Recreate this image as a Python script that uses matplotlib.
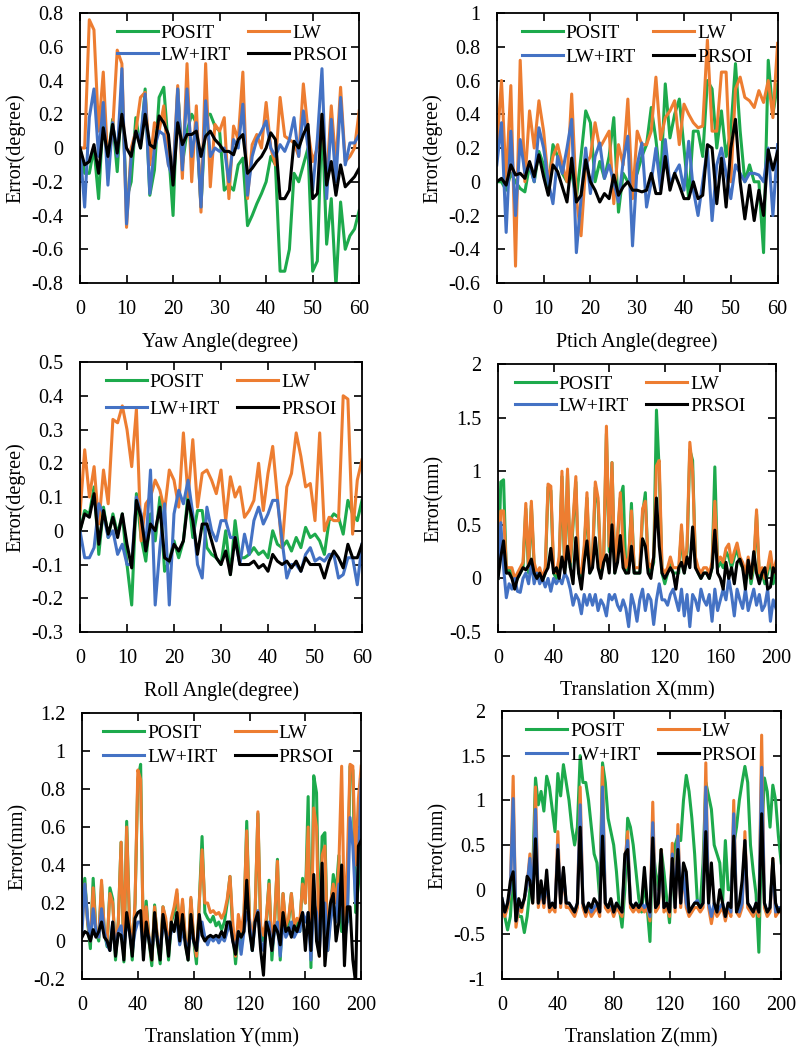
import matplotlib
matplotlib.use('Agg')
import matplotlib.pyplot as plt
from matplotlib.ticker import FuncFormatter

plt.rcParams['font.family'] = ['Liberation Serif', 'DejaVu Serif']
plt.rcParams['font.size'] = 14
plt.rcParams['axes.unicode_minus'] = False

series_names = ['POSIT', 'LW', 'LW+IRT', 'PRSOI']
series_colors = ['#1daa4c', '#ed7d31', '#4472c4', '#000000']

angle_x = list(range(0, 61))
trans_x = list(range(0, 201, 2))

# ---------------- Yaw ----------------
yaw_posit = [0, -0.15, -0.15, 0.0, -0.3, 0.2, -0.1, 0.17, -0.14, 0.3,
             -0.3, -0.2, 0.18, 0.0, 0.35, -0.28, -0.13, 0.3, 0.36, 0.0,
             -0.4, 0.35, -0.1, 0.1, 0.2, 0.15, -0.35, 0.2, 0.2, 0.13,
             0.1, -0.25, -0.22, -0.25, -0.1, -0.06, -0.46, -0.4, -0.33, -0.27,
             -0.2, -0.05, -0.1, -0.73, -0.73, -0.6, -0.15, -0.2, -0.1, 0.0,
             -0.73, -0.67, 0.2, -0.57, -0.3, -0.82, -0.32, -0.6, -0.52, -0.48, -0.37]
yaw_lw = [0, 0.0, 0.76, 0.70, 0.1, 0.45, -0.1, 0.1, 0.58, 0.5,
          -0.47, 0.0, 0.1, 0.3, 0.33, -0.1, 0.15, 0.1, 0.25, -0.1,
          -0.15, 0.37, -0.18, 0.5, -0.2, 0.25, -0.38, 0.5, -0.23, 0.14,
          0.1, 0.18, -0.3, 0.13, 0.05, 0.45, -0.3, 0.02, 0.08, 0.0,
          0.27, 0.0, -0.1, 0.3, 0.07, 0.05, 0.03, -0.05, 0.38, 0.1,
          -0.08, 0.0, 0.2, -0.2, 0.25, -0.1, 0.36, -0.08, -0.05, 0.0, 0.22]
yaw_irt = [0, -0.35, 0.18, 0.35, -0.05, 0.27, -0.22, 0.15, -0.05, 0.47,
           -0.45, -0.05, 0.1, 0.05, 0.32, -0.27, 0.0, 0.1, 0.08, -0.1,
           -0.18, 0.35, -0.13, 0.35, -0.05, 0.15, -0.35, 0.28, -0.05, 0.0,
           -0.02, 0.0, -0.2, 0.05, 0.0, 0.26, -0.28, -0.05, 0.05, 0.1,
           0.16, 0.0, -0.05, 0.02, -0.02, 0.05, 0.18, -0.05, 0.22, 0.0,
           -0.25, 0.05, 0.47, -0.3, 0.17, -0.2, 0.3, -0.1, 0.03, 0.03, 0.08]
yaw_prsoi = [0, -0.1, -0.08, 0.02, -0.15, 0.12, -0.05, 0.14, -0.03, 0.2,
             0.0, -0.05, 0.1, 0.0, 0.2, 0.02, 0.0, 0.19, 0.15, 0.08,
             -0.22, 0.15, 0.02, 0.08, 0.08, 0.1, -0.05, 0.07, 0.1, 0.05,
             0.02, -0.02, -0.02, -0.04, 0.05, 0.08, -0.15, -0.12, -0.08, -0.05,
             0.0, 0.09, 0.05, -0.3, -0.3, -0.25, 0.04, 0.0, 0.08, 0.14,
             -0.3, -0.27, 0.2, -0.22, -0.08, -0.28, -0.1, -0.23, -0.2, -0.17, -0.12]

# ---------------- Pitch ----------------
pitch_posit = [0, 0, -0.05, 0.05, 0.0, -0.04, -0.06, 0.1, 0.0, 0.18,
               0.1, -0.05, 0.22, 0.15, 0.05, 0.0, 0.05, -0.1, 0.15, 0.42,
               0.35, 0.0, 0.12, 0.02, 0.15, 0.38, -0.18, 0.05, 0.0, 0.0,
               0.05, 0.15, 0.22, 0.44, 0.25, 0.0, 0.58, 0.26, 0.4, 0.49,
               0.2, -0.1, 0.3, 0.3, 0.15, 0.6, 0.55, 0.2, 0.42, 0.15,
               0.3, 0.7, 0.3, 0.0, 0.1, 0.0, 0.0, -0.42, 0.72, 0.4, 0.58]
pitch_lw = [0.2, 0.6, 0.0, 0.57, -0.5, 0.72, 0.0, 0.42, 0.2, 0.48,
            0.3, 0.0, 0.15, 0.22, 0.1, 0.0, 0.52, -0.1, -0.32, 0.1,
            0.15, 0.35, 0.2, 0.25, 0.3, -0.13, 0.22, 0.1, 0.49, -0.1,
            0.3, 0.22, 0.22, 0.3, 0.62, 0.25, 0.38, 0.42, 0.48, 0.22,
            0.46, 0.4, 0.35, 0.32, 0.33, 0.84, 0.3, 0.3, 0.65, 0.65,
            0.0, 0.55, 0.62, 0.5, 0.48, 0.44, 0.54, 0.47, 0.6, 0.38, 0.82]
pitch_irt = [0.1, 0.35, -0.3, 0.3, -0.2, 0.25, 0.05, 0.1, 0.0, 0.32,
             0.2, 0.0, -0.13, 0.15, 0.05, 0.2, 0.37, -0.42, -0.1, 0.2,
             -0.07, 0.15, 0.23, 0.02, 0.1, 0.0, -0.12, 0.12, 0.27, -0.38,
             0.1, 0.23, -0.15, 0.0, 0.2, -0.05, 0.25, -0.02, 0.05, 0.1,
             -0.05, 0.24, -0.05, -0.2, 0.0, 0.2, -0.23, 0.1, 0.2, 0.05,
             -0.1, 0.1, 0.05, 0.0, 0.05, 0.05, 0.04, 0.0, 0.2, -0.2, 0.22]
pitch_prsoi = [0, 0.02, -0.02, 0.1, 0.04, 0.05, 0.02, 0.12, 0.03, 0.16,
               0.03, -0.08, 0.1, 0.06, -0.03, -0.12, 0.14, -0.12, -0.08, 0.13,
               0.0, -0.05, -0.12, -0.07, -0.1, 0.04, -0.08, -0.03, 0.0, -0.05,
               -0.05, -0.06, -0.05, 0.05, -0.07, -0.07, 0.15, -0.05, 0.05, -0.02,
               -0.1, -0.1, 0.0, -0.1, -0.08, 0.22, 0.2, -0.13, 0.14, -0.15,
               0.2, 0.37, 0.0, -0.22, -0.02, -0.23, -0.05, -0.2, 0.19, 0.07, 0.18]

# ---------------- Roll ----------------
roll_posit = [0.0, 0.06, 0.05, 0.13, -0.07, 0.07, -0.02, 0.05, -0.01, 0.05,
              -0.1, -0.22, 0.11, -0.02, -0.09, 0.05, -0.03, 0.1, -0.12, -0.09,
              -0.03, -0.08, -0.03, 0.11, -0.02, 0.06, 0.06, -0.05, -0.07, -0.08,
              -0.1, 0.0, -0.13, 0.03, -0.08, -0.08, -0.07, -0.05, -0.07, -0.06,
              -0.08, 0.0, -0.04, -0.05, -0.03, -0.06, -0.02, -0.05, 0.01, -0.02,
              -0.01, -0.03, -0.07, 0.03, 0.05, 0.04, -0.01, 0.09, 0.05, 0.03, 0.09]
roll_lw = [0.05, 0.24, 0.1, 0.19, 0.02, 0.18, 0.08, 0.33, 0.32, 0.37,
           0.3, 0.19, 0.36, -0.03, 0.08, 0.1, 0.15, 0.12, 0.06, 0.18,
           0.15, 0.07, 0.29, 0.1, 0.27, 0.07, 0.17, 0.18, 0.15, 0.11,
           0.18, 0.03, 0.16, 0.1, 0.13, 0.04, 0.06, 0.09, 0.2, 0.06,
           0.17, 0.25, 0.1, -0.05, 0.13, 0.17, 0.29, 0.22, 0.13, 0.14,
           0.03, 0.29, 0.0, 0.04, 0.03, 0.03, 0.4, 0.39, -0.01, 0.15, 0.21]
roll_irt = [0.0, -0.08, -0.08, -0.05, 0.08, 0.05, -0.02, 0.0, -0.07, -0.04,
            -0.1, -0.1, 0.1, 0.05, -0.05, 0.18, -0.22, -0.05, 0.08, -0.22,
            0.05, 0.12, 0.08, 0.15, 0.05, -0.1, -0.14, 0.07, 0.0, -0.03,
            0.03, 0.03, -0.02, -0.02, -0.1, -0.01, -0.07, 0.03, 0.07, 0.02,
            0.05, 0.09, 0.09, -0.03, -0.14, -0.1, -0.1, -0.12, -0.07, -0.05,
            -0.09, -0.08, -0.09, -0.07, -0.07, -0.14, -0.13, -0.08, -0.08, -0.16, -0.04]
roll_prsoi = [0.0, 0.05, 0.04, 0.11, -0.04, 0.06, -0.01, 0.04, -0.02, 0.05,
              -0.04, -0.11, 0.09, 0.04, -0.06, 0.02, 0.0, 0.07, -0.08, -0.09,
              -0.04, -0.06, -0.03, 0.09, 0.03, -0.07, 0.02, 0.02, -0.03, -0.08,
              -0.1, -0.06, -0.13, -0.02, -0.1, -0.1, -0.1, -0.09, -0.11, -0.1,
              -0.12, -0.07, -0.09, -0.1, -0.09, -0.11, -0.09, -0.12, -0.08, -0.1,
              -0.1, -0.1, -0.14, -0.09, -0.06, -0.08, -0.11, -0.04, -0.08, -0.08, -0.04]

# ---------------- Translation X ----------------
tx_posit = [0.0, 0.9, 0.92, 0.05, 0.08, 0.05, -0.05, 0.0, 0.05, 0.1,
            0.65, 0.05, 0.68, 0.1, 0.0, 0.05, -0.02, 0.05, 0.85, 0.82,
            0.05, 0.0, 0.15, 0.95, 0.05, 0.98, 0.1, 0.5, 0.9, 0.05,
            0.0, 0.25, 0.75, 0.05, 0.15, 0.85, 0.7, 0.05, 0.15, 1.35,
            0.25, 1.08, 0.05, 0.35, 0.75, 0.86, 0.05, 0.15, 0.7, 0.05,
            0.05, 0.05, 0.6, 0.8, 0.1, 0.05, 0.15, 1.57, 1.0, 0.05,
            -0.05, 0.05, 0.15, 0.05, 0.05, 0.05, 0.45, 0.05, 0.25, 1.2,
            1.1, 0.15, 0.05, 0.0, 0.05, 0.05, 0.0, 0.1, 1.04, 0.1,
            0.15, 0.1, 0.25, 0.2, 0.1, 0.2, 0.28, 0.15, 0.1, 0.0,
            0.15, -0.05, 0.1, 0.6, 0.0, 0.05, -0.05, 0.05, 0.2, -0.05, 0.1]
tx_lw = [0.0, 0.63, 0.63, 0.1, 0.1, 0.1, 0.0, 0.05, 0.1, 0.15,
         0.7, 0.1, 0.72, 0.15, 0.05, 0.1, 0.0, 0.1, 0.88, 0.86,
         0.1, 0.05, 0.2, 1.0, 0.1, 1.02, 0.15, 0.55, 0.95, 0.1,
         0.05, 0.3, 0.8, 0.1, 0.2, 0.9, 0.75, 0.1, 0.2, 1.42,
         0.3, 1.08, 0.1, 0.4, 0.8, 0.3, 0.1, 0.2, 0.63, 0.1,
         0.1, 0.1, 0.65, 0.72, 0.15, 0.1, 0.2, 1.05, 1.1, 0.1,
         0.05, 0.1, 0.2, 0.1, 0.1, 0.1, 0.5, 0.1, 0.3, 1.27,
         1.0, 0.2, 0.1, 0.05, 0.1, 0.1, 0.05, 0.15, 0.72, 0.15,
         0.2, 0.15, 0.28, 0.32, 0.15, 0.25, 0.33, 0.2, 0.15, 0.05,
         0.2, 0.0, 0.15, 0.64, 0.05, 0.1, 0.0, 0.1, 0.25, 0.05, 0.16]
tx_irt = [0.0, 0.52, 0.1, -0.18, -0.05, -0.1, 0.0, -0.12, -0.13, 0.0,
          0.05, -0.05, 0.15, -0.05, 0.05, -0.05, 0.0, -0.08, 0.0, -0.12,
          0.0, -0.05, 0.0, -0.05, 0.05, 0.0, -0.1, -0.25, -0.15, -0.2,
          -0.33, -0.15, -0.25, -0.15, -0.25, -0.15, -0.3, -0.2, -0.25, -0.35,
          -0.15, -0.2, -0.15, -0.25, -0.3, -0.2, -0.28, -0.45, -0.15, -0.25,
          -0.4, -0.2, -0.1, -0.3, -0.15, -0.2, -0.43, -0.2, -0.05, -0.2,
          -0.2, -0.25, -0.15, -0.1, -0.2, -0.3, -0.1, -0.35, -0.15, -0.45,
          -0.15, -0.2, -0.3, -0.1, -0.2, -0.25, -0.15, -0.4, -0.1, -0.3,
          -0.2, -0.1, -0.2, 0.0, -0.15, -0.35, -0.1, -0.2, -0.28, -0.1,
          -0.3, -0.2, -0.1, -0.25, -0.15, -0.3, -0.25, -0.1, -0.4, -0.2, -0.28]
tx_prsoi = [0.0, 0.2, 0.35, 0.05, 0.05, 0.0, -0.1, 0.0, 0.05, 0.1,
            0.08, 0.12, 0.18, 0.05, 0.0, 0.05, -0.02, 0.05, 0.1, 0.28,
            0.05, 0.1, 0.0, 0.2, 0.05, 0.3, 0.1, -0.05, 0.38, 0.05,
            -0.1, 0.15, 0.35, 0.05, 0.1, 0.38, 0.1, 0.0, 0.15, 0.22,
            0.05, 0.5, 0.05, 0.15, 0.4, 0.1, 0.05, 0.05, 0.3, 0.05,
            0.05, 0.05, 0.37, 0.3, 0.05, 0.0, 0.2, 0.75, 0.3, 0.05,
            0.0, 0.05, 0.1, 0.05, -0.1, 0.1, 0.15, 0.05, 0.2, 0.1,
            0.48, 0.1, 0.05, 0.0, 0.05, 0.05, 0.0, 0.1, 0.45, 0.05,
            0.0, -0.1, 0.15, 0.0, 0.1, -0.05, 0.15, 0.18, 0.1, -0.1,
            0.17, 0.0, 0.25, 0.05, -0.05, 0.05, 0.1, -0.1, -0.08, 0.1, 0.05]

# ---------------- Translation Y ----------------
ty_posit = [0.2, 0.33, 0.1, -0.04, 0.33, 0.05, 0.0, 0.3, 0.05, -0.03,
            0.28, 0.22, -0.1, 0.1, 0.52, -0.11, 0.63, 0.1, -0.1, 0.2,
            0.85, 0.93, -0.05, 0.21, 0.0, -0.13, 0.19, 0.0, -0.12, 0.18,
            0.1, -0.1, 0.1, 0.15, 0.25, 0.02, 0.2, 0.0, -0.1, 0.22,
            0.0, -0.12, 0.2, 0.55, 0.15, 0.12, 0.1, 0.13, 0.08, 0.1,
            0.06, 0.1, 0.2, 0.34, 0.05, -0.12, 0.05, 0.0, 0.1, 0.63,
            0.1, -0.05, 0.15, 0.67, 0.05, 0.0, 0.1, 0.32, -0.1, 0.1,
            0.43, -0.1, 0.25, 0.05, 0.1, 0.25, 0.05, 0.1, 0.05, 0.33,
            0.2, 0.76, -0.14, 0.87, 0.78, 0.0, 0.55, 0.57, -0.05, 0.15,
            0.35, 0.25, 0.45, 0.05, 0.2, 0.1, 0.92, 0.9, 0.15, 0.3, 0.55]
ty_lw = [0.1, 0.3, 0.1, 0.0, 0.28, 0.05, 0.02, 0.32, 0.05, 0.0,
         0.25, 0.2, -0.05, 0.1, 0.52, -0.08, 0.6, 0.1, -0.05, 0.2,
         0.9, 0.85, -0.03, 0.18, 0.02, -0.1, 0.18, 0.02, -0.08, 0.18,
         0.12, -0.05, 0.12, 0.18, 0.27, 0.05, 0.22, 0.02, -0.08, 0.23,
         0.02, -0.08, 0.2, 0.48, 0.2, 0.2, 0.15, 0.16, 0.14, 0.15,
         0.12, 0.15, 0.22, 0.34, 0.1, -0.08, 0.14, 0.05, 0.15, 0.58,
         0.12, 0.0, 0.15, 0.68, 0.08, 0.03, 0.12, 0.3, -0.05, 0.12,
         0.42, -0.05, 0.25, 0.08, 0.12, 0.25, 0.08, 0.12, 0.1, 0.3,
         0.2, 0.6, -0.08, 0.7, 0.6, -0.08, 0.45, 0.5, -0.05, 0.2,
         0.3, 0.2, 0.4, 0.92, 0.1, 0.4, 0.93, 0.92, 0.4, 0.75, 0.92]
ty_irt = [0.05, 0.3, 0.12, 0.0, 0.17, 0.05, 0.02, 0.17, 0.05, -0.02,
          -0.05, 0.1, -0.05, 0.05, 0.08, -0.05, 0.1, 0.05, -0.05, 0.05,
          0.1, 0.1, -0.05, 0.05, 0.02, -0.05, 0.05, 0.02, -0.05, 0.07,
          0.05, -0.02, 0.05, 0.07, 0.1, -0.02, 0.05, 0.0, -0.05, 0.05,
          0.0, -0.05, 0.05, 0.1, 0.02, -0.02, 0.02, 0.0, 0.02, -0.01,
          0.02, 0.0, 0.05, 0.1, 0.0, -0.05, 0.05, -0.07, 0.05, 0.15,
          0.1, -0.05, 0.1, 0.16, 0.0, -0.05, 0.05, 0.1, -0.05, 0.05,
          0.1, -0.08, 0.1, 0.02, 0.05, 0.1, 0.02, 0.05, 0.05, 0.15,
          0.1, 0.15, -0.1, 0.2, 0.15, -0.05, 0.15, 0.2, -0.05, 0.1,
          0.2, 0.1, 0.3, 0.2, 0.0, 0.1, 0.65, 0.5, 0.2, 0.4, 0.85]
ty_prsoi = [0.02, 0.05, 0.04, 0.0, 0.06, 0.02, 0.05, 0.1, 0.02, 0.0,
            -0.05, 0.1, -0.08, 0.04, 0.03, -0.1, 0.15, 0.05, -0.08, 0.12,
            0.15, 0.16, -0.1, 0.1, 0.0, -0.1, 0.15, 0.0, -0.1, 0.14,
            0.05, -0.08, 0.1, 0.05, 0.15, 0.0, 0.14, -0.02, -0.1, 0.14,
            0.0, -0.05, 0.14, 0.03, 0.0, 0.02, 0.03, 0.02, 0.03, 0.02,
            0.05, 0.02, 0.1, 0.1, 0.0, -0.07, 0.05, 0.02, 0.05, 0.32,
            0.05, -0.05, 0.1, 0.15, -0.05, -0.18, 0.1, 0.05, -0.05, 0.08,
            0.05, -0.02, 0.15, 0.05, 0.07, 0.02, 0.08, 0.05, 0.1, 0.15,
            -0.05, 0.15, -0.05, 0.35, 0.0, -0.08, 0.41, -0.13, 0.05, 0.2,
            0.25, 0.0, 0.1, 0.4, -0.13, 0.18, 0.18, -0.1, -0.22, 0.5, 0.53]

# ---------------- Translation Z ----------------
tz_posit = [-0.2, -0.3, -0.45, -0.3, 0.2, -0.2, -0.3, -0.3, -0.48, -0.3,
            0.0, 0.2, 1.25, 0.95, 1.1, 0.88, 1.27, 1.15, 0.9, 0.65,
            1.3, 1.05, 1.4, 1.2, 1.0, 0.7, 0.5, 0.7, 1.5, 1.2,
            1.2, 1.0, 0.7, 0.4, 0.3, -0.1, 1.42, 1.2, 0.8, 0.65,
            0.5, 0.2, -0.2, -0.42, 0.0, 0.8, 0.7, 0.5, 0.2, -0.1,
            -0.25, 0.1, -0.2, -0.58, 0.5, 0.2, 0.0, 0.45, 0.2, -0.1,
            -0.37, 0.2, 0.5, 0.6, 0.55, 1.0, 1.28, 1.1, 0.8, 0.4,
            -0.15, -0.2, 0.3, 1.2, 1.05, 0.9, 0.5, 0.4, 0.3, -0.15,
            0.55, 0.0, 0.0, 0.5, 0.7, 1.0, 1.2, 1.38, 1.2, 0.5,
            0.2, -0.05, -0.7, 0.6, 1.25, 1.1, 0.7, 1.17, 1.0, 0.6, 0.3]
tz_lw = [-0.15, -0.3, -0.2, 0.0, 1.27, -0.42, -0.2, -0.25, -0.1, 0.05,
         0.4, -0.15, 1.15, -0.2, 0.0, -0.2, 0.1, -0.25, -0.2, -0.25,
         0.65, -0.2, 0.2, -0.2, -0.2, -0.25, -0.3, -0.2, 1.15, -0.2,
         -0.3, -0.2, -0.3, -0.25, -0.2, -0.3, 1.37, -0.2, -0.25, -0.2,
         -0.3, -0.2, -0.25, -0.3, 0.3, 0.65, -0.2, -0.25, -0.2, -0.25,
         -0.2, -0.25, -0.2, -0.35, 0.98, -0.25, -0.2, 0.45, -0.25, -0.2,
         -0.3, 0.52, -0.25, 0.73, -0.2, 0.2, -0.2, -0.3, -0.25, -0.2,
         -0.2, -0.25, -0.2, 1.42, -0.2, -0.38, -0.2, -0.3, -0.25, -0.2,
         -0.35, -0.2, -0.3, 1.0, -0.25, -0.3, -0.2, 0.65, -0.2, -0.25,
         -0.3, -0.2, -0.3, 1.73, -0.2, -0.3, -0.25, 0.35, -0.3, -0.25, -0.25]
tz_irt = [-0.1, -0.25, -0.15, 0.0, 1.02, -0.35, -0.15, -0.2, -0.1, 0.05,
          0.35, -0.1, 0.9, -0.15, 0.0, -0.15, 0.1, -0.2, -0.15, -0.2,
          0.5, -0.15, 0.2, -0.15, -0.15, -0.2, -0.25, -0.15, 0.95, -0.15,
          -0.25, -0.15, -0.25, -0.2, -0.15, -0.25, 1.15, -0.15, -0.2, -0.15,
          -0.25, -0.15, -0.2, -0.25, 0.3, 0.55, -0.15, -0.2, -0.15, -0.2,
          -0.15, -0.2, -0.15, -0.3, 0.75, -0.2, -0.15, 0.4, -0.2, -0.15,
          -0.25, 0.4, -0.2, 0.6, -0.15, 0.2, -0.15, -0.25, -0.2, -0.15,
          -0.12, -0.2, -0.15, 1.15, -0.15, -0.3, -0.15, -0.25, -0.2, -0.15,
          -0.3, -0.15, -0.25, 0.85, -0.2, -0.25, -0.15, 0.55, -0.15, -0.2,
          -0.25, -0.15, -0.25, 1.37, -0.15, -0.25, -0.2, 0.3, -0.25, -0.2, -0.2]
tz_prsoi = [-0.1, -0.25, -0.15, 0.1, 0.2, -0.35, -0.1, -0.2, -0.1, 0.15,
            0.1, -0.15, 0.57, -0.15, 0.1, -0.15, 0.22, -0.2, -0.15, -0.2,
            0.45, -0.15, 0.25, -0.15, -0.15, -0.2, -0.25, -0.15, 0.7, -0.15,
            -0.25, -0.15, -0.2, -0.1, -0.15, -0.25, 0.6, -0.15, -0.2, -0.1,
            -0.25, -0.15, -0.2, -0.25, 0.4, 0.45, -0.15, -0.2, -0.15, -0.2,
            -0.15, 0.25, -0.15, -0.25, 0.58, -0.2, -0.15, 0.45, -0.2, -0.15,
            -0.25, 0.35, -0.2, 0.45, -0.15, 0.3, 0.2, -0.25, -0.2, -0.15,
            -0.15, -0.2, -0.15, 0.65, -0.15, 0.3, -0.15, -0.25, 0.0, -0.15,
            -0.3, -0.15, -0.2, 0.6, -0.25, -0.15, 0.1, 0.55, -0.15, -0.2,
            -0.25, -0.15, -0.25, 0.85, -0.15, -0.25, -0.2, 0.35, -0.15, -0.25, -0.2]

# ---------------- tick values / labels ----------------
angle_xticks = [0, 10, 20, 30, 40, 50, 60]
trans_xticks = [0, 40, 80, 120, 160, 200]
yaw_yticks = [-0.8, -0.6, -0.4, -0.2, 0, 0.2, 0.4, 0.6, 0.8]
pitch_yticks = [-0.6, -0.4, -0.2, 0, 0.2, 0.4, 0.6, 0.8, 1]
roll_yticks = [-0.3, -0.2, -0.1, 0, 0.1, 0.2, 0.3, 0.4, 0.5]
tx_yticks = [-0.5, 0, 0.5, 1, 1.5, 2]
ty_yticks = [-0.2, 0, 0.2, 0.4, 0.6, 0.8, 1, 1.2]
tz_yticks = [-1, -0.5, 0, 0.5, 1, 1.5, 2]

x_labels = ['Yaw Angle(degree)', 'Ptich Angle(degree)', 'Roll Angle(degree)',
            'Translation X(mm)', 'Translation Y(mm)', 'Translation Z(mm)']
y_labels = ['Error(degree)', 'Error(degree)', 'Error(degree)',
            'Error(mm)', 'Error(mm)', 'Error(mm)']

panels = [
    dict(x=angle_x, ys=[yaw_posit, yaw_lw, yaw_irt, yaw_prsoi], xt=angle_xticks, yt=yaw_yticks,
         pos=[0.100, 0.7302, 0.349, 0.2574], leg=(0.545, 1.0), lsp=0.2),
    dict(x=angle_x, ys=[pitch_posit, pitch_lw, pitch_irt, pitch_prsoi], xt=angle_xticks, yt=pitch_yticks,
         pos=[0.621, 0.7302, 0.351, 0.2574], leg=(0.50, 1.0), lsp=0.3),
    dict(x=angle_x, ys=[roll_posit, roll_lw, roll_irt, roll_prsoi], xt=angle_xticks, yt=roll_yticks,
         pos=[0.100, 0.3975, 0.3525, 0.2574], leg=(0.50, 1.0), lsp=0.45),
    dict(x=trans_x, ys=[tx_posit, tx_lw, tx_irt, tx_prsoi], xt=trans_xticks, yt=tx_yticks,
         pos=[0.6225, 0.3975, 0.3475, 0.2555], leg=(0.475, 1.0), lsp=0.22),
    dict(x=trans_x, ys=[ty_posit, ty_lw, ty_irt, ty_prsoi], xt=trans_xticks, yt=ty_yticks,
         pos=[0.1025, 0.0667, 0.349, 0.2536], leg=(0.49, 1.0), lsp=0.32),
    dict(x=trans_x, ys=[tz_posit, tz_lw, tz_irt, tz_prsoi], xt=trans_xticks, yt=tz_yticks,
         pos=[0.6275, 0.0667, 0.349, 0.2555], leg=(0.50, 1.0), lsp=0.32),
]

fig = plt.figure(figsize=(8.0, 10.49), dpi=100)
fmt = FuncFormatter(lambda v, p: '%g' % round(v, 3))
legend_order = [0, 2, 1, 3]  # row-wise: POSIT, LW / LW+IRT, PRSOI

for k, p in enumerate(panels):
    ax = fig.add_axes(p['pos'])
    lines = []
    for name, color, y in zip(series_names, series_colors, p['ys']):
        ln, = ax.plot(p['x'], y, color=color, lw=2.2, label=name)
        lines.append(ln)
    ax.set_xlim(p['xt'][0], p['xt'][-1])
    ax.set_ylim(p['yt'][0], p['yt'][-1])
    ax.set_xticks(p['xt'])
    ax.set_yticks(p['yt'])
    ax.xaxis.set_major_formatter(fmt)
    ax.yaxis.set_major_formatter(fmt)
    ax.tick_params(direction='in', top=True, right=True, length=6, width=1.2,
                   labelsize=14.5, pad=12)
    for s in ax.spines.values():
        s.set_linewidth(1.3)
    ax.set_xlabel(x_labels[k], fontsize=14.5, labelpad=9.5)
    ax.set_ylabel(y_labels[k], fontsize=14.5, labelpad=4)
    ax.legend([lines[i] for i in legend_order], [series_names[i] for i in legend_order],
              loc='upper center', bbox_to_anchor=p['leg'], ncol=2, frameon=False,
              fontsize=14, handlelength=2.1, handletextpad=0.15, columnspacing=0.9,
              labelspacing=p['lsp'], borderaxespad=0.2)

fig.savefig('out.png', dpi=100)
